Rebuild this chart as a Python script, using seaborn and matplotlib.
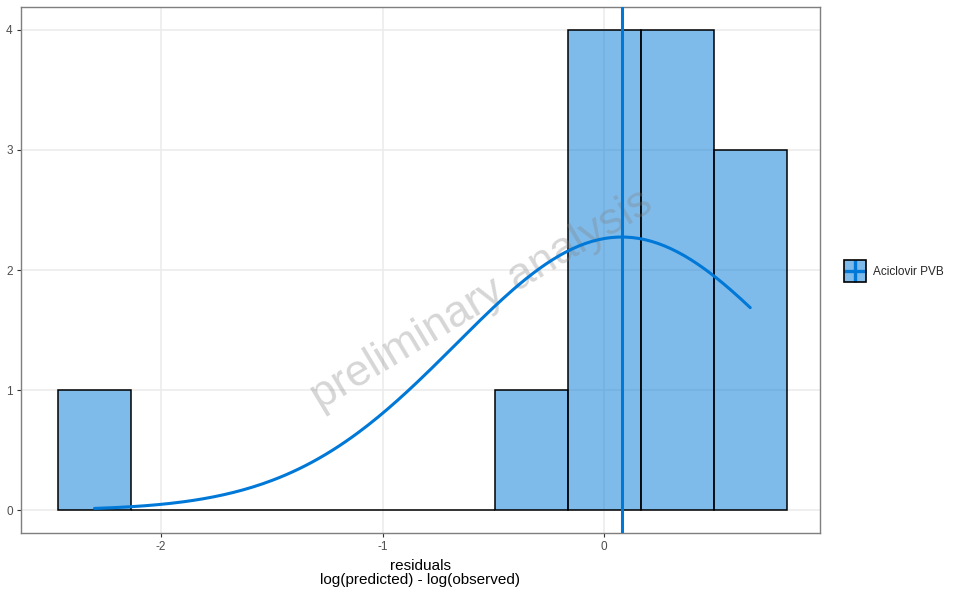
import numpy as np
import pandas as pd
import seaborn as sns
import matplotlib.pyplot as plt
from matplotlib.patches import Rectangle
from matplotlib.lines import Line2D
from matplotlib.legend_handler import HandlerBase

residuals = [-2.30, -0.18, 0.10, 0.12, 0.14, 0.16, 0.20, 0.28, 0.36, 0.45, 0.50, 0.55, 0.66]
drug = "Aciclovir PVB"
n_bins = 10

blue = "#0078D7"

df = pd.DataFrame({"res": residuals, "drug": drug})

# ggplot-style bins: centres at min and max
lo, hi = min(residuals), max(residuals)
bw = (hi - lo) / (n_bins - 1)
edges = np.arange(n_bins + 1) * bw + lo - bw / 2


class CrossKey(HandlerBase):
    # filled square with a horizontal and vertical line, like the ggplot key
    def create_artists(self, legend, orig_handle, xd, yd, width, height, fontsize, trans):
        size = min(width, height)
        x0, y0 = -xd, -yd + (height - size) / 2
        rect = Rectangle((x0, y0), size, size, facecolor=blue, alpha=0.5,
                         edgecolor="none", transform=trans)
        border = Rectangle((x0, y0), size, size, facecolor="none",
                           edgecolor="black", linewidth=1.2, transform=trans)
        hl = Line2D([x0, x0 + size], [y0 + size / 2] * 2, color=blue, linewidth=2.4,
                    solid_capstyle="butt", transform=trans)
        vl = Line2D([x0 + size / 2] * 2, [y0, y0 + size], color=blue, linewidth=2.4,
                    solid_capstyle="butt", transform=trans)
        return [rect, hl, vl, border]


sns.set_style("white")
plt.rcParams["font.family"] = ["Liberation Sans", "DejaVu Sans"]

fig = plt.figure(figsize=(9.6, 5.93), dpi=100)
ax = fig.add_axes([21 / 960, 60 / 593, 799 / 960, 526 / 593])

sns.histplot(data=df, x="res", bins=edges, color=blue, alpha=0.5,
             edgecolor="black", linewidth=1.1, ax=ax, zorder=2)

# normal curve fitted to the residuals, scaled to counts
m = np.mean(residuals)
s = np.std(residuals, ddof=1)
xs = np.linspace(lo, hi, 200)
ys = len(residuals) * bw * np.exp(-0.5 * ((xs - m) / s) ** 2) / (s * np.sqrt(2 * np.pi))
sns.lineplot(x=xs, y=ys, color=blue, linewidth=2.2, ax=ax, zorder=4)
ax.axvline(m, color=blue, linewidth=2.2, zorder=5)

ax.text(-0.55, 1.75, "preliminary analysis", rotation=31, fontsize=32,
        color="#808080", alpha=0.32, ha="center", va="center", zorder=3)

ax.set_xlim(-2.632, 0.975)
ax.set_ylim(-0.19, 4.19)
ax.set_xticks([-2, -1, 0])
ax.set_xticklabels(["-2", "-1", "0"])
ax.set_yticks([0, 1, 2, 3, 4])
ax.grid(True, color="#EBEBEB", linewidth=1.1, zorder=0)
ax.set_axisbelow(True)
for sp in ax.spines.values():
    sp.set_color("#7F7F7F")
    sp.set_linewidth(1.0)
ax.tick_params(axis="both", length=3, width=0.8, color="#333333",
               labelsize=8.5, labelcolor="#4D4D4D", bottom=True, left=True, pad=3)
ax.set_ylabel("")
ax.set_xlabel("residuals\nlog(predicted) - log(observed)", fontsize=11, color="black",
              labelpad=4, linespacing=1.0)

fig.legend([object()], [drug], handler_map={object: CrossKey()},
           loc="center left", bbox_to_anchor=(837 / 960, 1 - 271 / 593),
           frameon=False, fontsize=8.5, handlelength=1.86, handleheight=2.48,
           handletextpad=0.6, borderpad=0.3, borderaxespad=0.3)

fig.savefig("out.png", dpi=100)
